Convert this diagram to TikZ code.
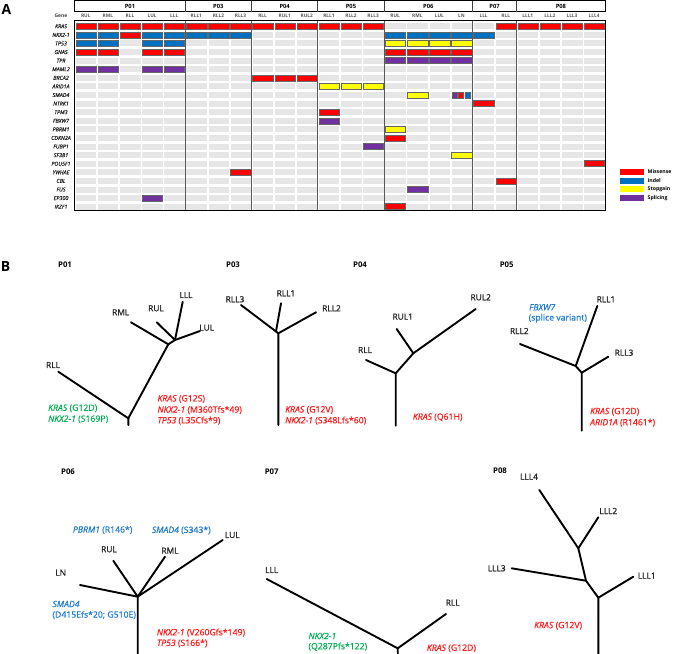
\documentclass[tikz,border=0pt]{standalone}
\usepackage{fontspec}
\setmainfont{Open Sans}
\newfontfamily\heavyfont{Open Sans}[FakeBold=1.2]
\newfontfamily\midfont{Open Sans}[FakeBold=0.6]
\definecolor{mis}{HTML}{FF0000}
\definecolor{ind}{HTML}{0070C0}
\definecolor{stop}{HTML}{FFFF00}
\definecolor{spl}{HTML}{7030A0}
\definecolor{cellgray}{HTML}{E6E6E6}
\definecolor{mutred}{HTML}{FF1A1A}
\definecolor{mutblue}{HTML}{1F7BD0}
\definecolor{mutgreen}{HTML}{00B050}
\tikzset{
  mut/.style={fill=#1, draw=black!60, line width=0.5bp},
  branch/.style={line width=1.9bp, line cap=round, line join=round},
  leaf/.style={font=\heavyfont\fontsize{8.4}{9}\selectfont, text=black!85, inner sep=0pt},
  pat/.style={font=\fontsize{7.8}{8}\selectfont\bfseries, inner sep=0pt},
  note/.style={font=\midfont\fontsize{8.7}{9}\selectfont, anchor=west, inner sep=0pt},
}
\newcommand\gn[1]{\textit{#1}}
\begin{document}
\begin{tikzpicture}[x=1bp, y=-1bp]
  \useasboundingbox (0,0) rectangle (673,654);
  \node[font=\fontsize{14}{14}\selectfont\bfseries] (panA) at (6.5,10) {A};
  \node[font=\fontsize{14}{14}\selectfont\bfseries] (panB) at (5.5,266.5) {B};

  % header with patients
  \draw[line width=1bp] (74.7,0.6) rectangle (605,11.7);
  \foreach \k in {5,8,11,14,18,20}
    \draw[line width=1bp, black!75] ({74.7+22.1*\k},0.6) -- ({74.7+22.1*\k},11.7);
  \foreach \a/\b/\p in {0/5/P01, 5/8/P03, 8/11/P04, 11/14/P05, 14/18/P06, 18/20/P07, 20/24/P08}
    \node[pat, font=\fontsize{5.8}{6}\selectfont\bfseries] (hd\p) at ({74.7+22.1*(\a+\b)/2},6.2) {\p};

  % samples
  \node[font=\fontsize{5}{5}\selectfont\bfseries, text=black!75] (genehd) at (61,15.8) {Gene};
  \foreach \s [count=\c from 0] in {RUL,RML,RLL,LUL,LLL,RLL1,RLL2,RLL3,RLL,RUL1,RUL2,RLL1,RLL2,RLL3,RUL,RML,LUL,LN,LLL,RLL,LLL1,LLL2,LLL3,LLL4}
    \node[font=\fontsize{4.8}{5}\selectfont\bfseries, text=black!65] (smp\c) at ({74.7+22.1*\c+11.1},15.8) {\s};

  % genes
  \foreach \g [count=\r from 0] in {KRAS,NKX2-1,TP53,GNAS,TPR,MAML2,BRCA2,ARID1A,SMAD4,NTRK1,TPM3,FBXW7,PBRM1,CDKN2A,FUBP1,SF3B1,POU5F1,YWHAE,CBL,FUS,EP300,IKZF1}
    \node[font=\midfont\fontsize{5.4}{5}\selectfont\itshape, text=black!85] (gene\r) at (61,{26.3+8.59*\r}) {\g};

  % empty cells
  \foreach \c in {0,...,23}
    \foreach \r in {0,...,21}
      \fill[cellgray] ({74.7+22.1*\c+1.2},{23.3+8.59*\r}) rectangle +(20.4,6);

  % mutations
  \foreach \c/\r/\k in {0/0/mis,1/0/mis,2/0/mis,3/0/mis,4/0/mis,5/0/mis,6/0/mis,7/0/mis,8/0/mis,9/0/mis,10/0/mis,11/0/mis,12/0/mis,13/0/mis,19/0/mis,20/0/mis,21/0/mis,22/0/mis,23/0/mis,
      0/1/ind,1/1/ind,2/1/mis,3/1/ind,4/1/ind,5/1/ind,6/1/ind,7/1/ind,14/1/ind,15/1/ind,16/1/ind,17/1/ind,18/1/ind,
      0/2/ind,1/2/ind,3/2/ind,4/2/ind,14/2/stop,15/2/stop,16/2/stop,17/2/stop,
      0/3/mis,1/3/mis,3/3/mis,4/3/mis,14/3/mis,15/3/mis,16/3/mis,17/3/mis,
      14/4/spl,15/4/spl,16/4/spl,17/4/spl,
      0/5/spl,1/5/spl,3/5/spl,4/5/spl,
      8/6/mis,9/6/mis,10/6/mis,
      11/7/stop,12/7/stop,13/7/stop,
      15/8/stop,18/9/mis,11/10/mis,11/11/spl,14/12/stop,14/13/mis,13/14/spl,17/15/stop,
      23/16/mis,7/17/mis,19/18/mis,15/19/spl,3/20/spl,14/21/mis}
    \draw[mut=\k] ({74.7+22.1*\c+1.2},{23.3+8.59*\r}) rectangle +(20.4,6);
  % SMAD4 in LN: three variants
  \foreach \dx/\w/\k in {1.6/5/spl, 8.2/5/mis, 14.8/5/ind}
    \draw[mut=\k] ({74.7+22.1*17+\dx},{23.3+8.59*8}) rectangle +(\w,6);

  % grid frame
  \foreach \k in {5,8,11,14,18,20}
    \draw[line width=1.1bp, black!65] ({74.7+22.1*\k},20.7) -- ({74.7+22.1*\k},210.7);
  \draw[line width=1bp] (74.7,20.7) rectangle (605,210.7);

  % legend
  \foreach \k/\t [count=\i from 0] in {mis/Missense, ind/Indel, stop/Stopgain, spl/Splicing}{
    \fill[\k] (620,{168.8+8.7*\i}) rectangle +(24.3,6);
    \node[font=\fontsize{5.2}{5}\selectfont\bfseries, anchor=west, inner sep=0pt] (lg\k) at (647.5,{171.8+8.7*\i}) {\t};
  }

  % P01
  \node[pat] (p01) at (65,265) {P01};
  \coordinate (p01base) at (128.3,425);
  \coordinate (p01root) at (128.3,418.3);
  \coordinate (p01a) at (168.3,344.3);
  \coordinate (p01b) at (175,340);
  \coordinate (p01rll) at (58.3,371.7);
  \coordinate (p01rml) at (131,322.3);
  \coordinate (p01rul) at (156.7,322.3);
  \coordinate (p01lll) at (182.7,301.7);
  \coordinate (p01lul) at (200,331);
  \draw[branch] (p01base) -- (p01root) -- (p01rll);
  \draw[branch] (p01root) -- (p01a) -- (p01rml);
  \draw[branch] (p01a) -- (p01b) -- (p01rul);
  \draw[branch] (p01b) -- (p01lll);
  \draw[branch] (p01b) -- (p01lul);
  \node[leaf] (p01rllL) at (53,365) {RLL};
  \node[leaf] (p01rmlL) at (120.7,312.3) {RML};
  \node[leaf] (p01rulL) at (156,308.3) {RUL};
  \node[leaf] (p01lllL) at (186,295) {LLL};
  \node[leaf] (p01lulL) at (206.7,327.7) {LUL};
  \node[note, text=mutgreen] (p01g1) at (48,408.3) {\gn{KRAS} (G12D)};
  \node[note, text=mutgreen] (p01g2) at (48,419.3) {\gn{NKX2-1} (S169P)};
  \node[note, text=mutred] (p01r1) at (157.3,399) {\gn{KRAS} (G12S)};
  \node[note, text=mutred] (p01r2) at (157.3,410) {\gn{NKX2-1} (M360Tfs*49)};
  \node[note, text=mutred] (p01r3) at (157.3,420.7) {\gn{TP53} (L35Cfs*9)};

  % P03
  \node[pat] (p03) at (233,265) {P03};
  \coordinate (p03base) at (278.3,425);
  \coordinate (p03a) at (278.3,333.3);
  \coordinate (p03b) at (276,331.5);
  \coordinate (p03rll3) at (241,305);
  \coordinate (p03rll1) at (281,303.3);
  \coordinate (p03rll2) at (316,312.3);
  \draw[branch] (p03base) -- (p03a) -- (p03rll2);
  \draw[branch] (p03a) -- (p03b) -- (p03rll3);
  \draw[branch] (p03b) -- (p03rll1);
  \node[leaf] (p03rll3L) at (235,299.3) {RLL3};
  \node[leaf] (p03rll1L) at (286,293.3) {RLL1};
  \node[leaf] (p03rll2L) at (331.5,308.3) {RLL2};
  \node[note, text=mutred] (p03r1) at (285,410) {\gn{KRAS} (G12V)};
  \node[note, text=mutred] (p03r2) at (285,420.7) {\gn{NKX2-1} (S348Lfs*60)};

  % P04
  \node[pat] (p04) at (360,264.5) {P04};
  \coordinate (p04base) at (395.7,425.7);
  \coordinate (p04a) at (395.7,373.3);
  \coordinate (p04b) at (413.3,353.3);
  \coordinate (p04rll) at (366,360);
  \coordinate (p04rul1) at (396.7,329);
  \coordinate (p04rul2) at (475.7,309);
  \draw[branch] (p04base) -- (p04a) -- (p04rll);
  \draw[branch] (p04a) -- (p04b) -- (p04rul1);
  \draw[branch] (p04b) -- (p04rul2);
  \node[leaf] (p04rllL) at (365,350) {RLL};
  \node[leaf] (p04rul1L) at (402.7,316.7) {RUL1};
  \node[leaf] (p04rul2L) at (480.7,297.3) {RUL2};
  \node[note, text=mutred] (p04r1) at (412.7,417.3) {\gn{KRAS} (Q61H)};

  % P05
  \node[pat] (p05) at (506.7,264.5) {P05};
  \coordinate (p05base) at (581.7,430.7);
  \coordinate (p05a) at (581.7,372.7);
  \coordinate (p05b) at (575.7,366);
  \coordinate (p05rll3) at (608.3,356.7);
  \coordinate (p05rll2) at (520,344);
  \coordinate (p05rll1) at (597.3,306);
  \draw[branch] (p05base) -- (p05a) -- (p05rll3);
  \draw[branch] (p05a) -- (p05b) -- (p05rll2);
  \draw[branch] (p05b) -- (p05rll1);
  \node[leaf] (p05rll1L) at (606,299.3) {RLL1};
  \node[leaf] (p05rll2L) at (519.3,331) {RLL2};
  \node[leaf] (p05rll3L) at (624,352.7) {RLL3};
  \node[note, text=mutblue] (p05b1) at (529,307.3) {\gn{FBXW7}};
  \node[note, text=mutblue] (p05b2) at (528.5,318.3) {(splice variant)};
  \node[note, text=mutred] (p05r1) at (590,411.7) {\gn{KRAS} (G12D)};
  \node[note, text=mutred] (p05r2) at (590,422.7) {\gn{ARID1A} (R1461*)};

  % P06
  \node[pat] (p06) at (68,471.7) {P06};
  \coordinate (p06base) at (137.7,654);
  \coordinate (p06a) at (137.7,596.7);
  \coordinate (p06ln) at (80,585);
  \coordinate (p06rul) at (113.3,560.7);
  \coordinate (p06rml) at (165,556.7);
  \coordinate (p06lul) at (222.7,540);
  \draw[branch] (p06base) -- (p06a) -- (p06ln);
  \draw[branch] (p06a) -- (p06rul);
  \draw[branch] (p06a) -- (p06rml);
  \draw[branch] (p06a) -- (p06lul);
  \node[leaf] (p06lnL) at (60.7,572.7) {LN};
  \node[leaf] (p06rulL) at (109,549.3) {RUL};
  \node[leaf] (p06rmlL) at (170,550.7) {RML};
  \node[leaf] (p06lulL) at (232.3,535) {LUL};
  \node[note, text=mutblue] (p06b1) at (72.7,530) {\gn{PBRM1} (R146*)};
  \node[note, text=mutblue] (p06b2) at (151.7,530.3) {\gn{SMAD4} (S343*)};
  \node[note, text=mutblue] (p06b3) at (52.3,604) {\gn{SMAD4}};
  \node[note, text=mutblue] (p06b4) at (52.3,615) {(D415Efs*20; G510E)};
  \node[note, text=mutred] (p06r1) at (156.7,632.7) {\gn{NKX2-1} (V260Gfs*149)};
  \node[note, text=mutred] (p06r2) at (156.7,643.3) {\gn{TP53} (S166*)};

  % P07
  \node[pat] (p07) at (271.7,471.7) {P07};
  \coordinate (p07base) at (397.7,654);
  \coordinate (p07a) at (397.7,648.3);
  \coordinate (p07lll) at (266.7,579);
  \coordinate (p07rll) at (446,614);
  \draw[branch] (p07base) -- (p07a) -- (p07lll);
  \draw[branch] (p07a) -- (p07rll);
  \node[leaf] (p07lllL) at (271.7,570) {LLL};
  \node[leaf] (p07rllL) at (452.7,602.7) {RLL};
  \node[note, text=mutgreen] (p07g1) at (308.3,636) {\gn{NKX2-1}};
  \node[note, text=mutgreen] (p07g2) at (308.3,646.7) {(Q287Pfs*122)};
  \node[note, text=mutred] (p07r1) at (426.7,648.3) {\gn{KRAS} (G12D)};

  % P08
  \node[pat] (p08) at (500,470.7) {P08};
  \coordinate (p08base) at (598.3,654);
  \coordinate (p08a) at (598.3,597.7);
  \coordinate (p08b) at (586,580.7);
  \coordinate (p08c) at (578.3,548.3);
  \coordinate (p08lll1) at (633.3,576.7);
  \coordinate (p08lll3) at (511.7,568.3);
  \coordinate (p08lll4) at (539.3,490);
  \coordinate (p08lll2) at (598.3,517.3);
  \draw[branch] (p08base) -- (p08a) -- (p08lll1);
  \draw[branch] (p08a) -- (p08b) -- (p08lll3);
  \draw[branch] (p08b) -- (p08c) -- (p08lll4);
  \draw[branch] (p08c) -- (p08lll2);
  \node[leaf] (p08lll4L) at (529,476.7) {LLL4};
  \node[leaf] (p08lll2L) at (608.3,511) {LLL2};
  \node[leaf] (p08lll3L) at (496.7,568.3) {LLL3};
  \node[leaf] (p08lll1L) at (646.7,575.7) {LLL1};
  \node[note, text=mutred] (p08r1) at (534,625.7) {\gn{KRAS} (G12V)};
\end{tikzpicture}
\end{document}
